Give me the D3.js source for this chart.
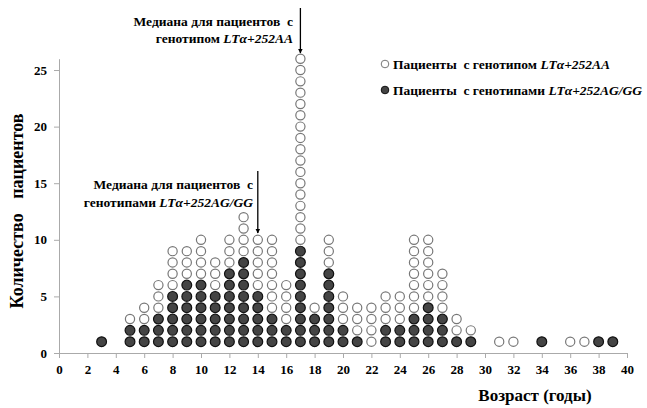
<!DOCTYPE html>
<html>
<head>
<meta charset="utf-8">
<script src="https://cdn.jsdelivr.net/npm/d3@7"></script>
<style>
  body { margin: 0; background: #fff; }
  svg text { font-family: "Liberation Serif", "Times New Roman", serif; font-weight: bold; fill: #000; }
</style>
</head>
<body>
<div id="chart"></div>
<script>
// age in years
const ages = [3, 5, 6, 7, 8, 9, 10, 11, 12, 13, 14, 15, 16, 17, 18, 19, 20, 21, 22, 23, 24, 25, 26, 27, 28, 29, 31, 32, 34, 36, 37, 38, 39];
// patients LTa+252AG/GG (filled dots, stacked at the bottom)
const countAGGG = [1, 2, 2, 3, 5, 6, 6, 5, 7, 8, 5, 3, 2, 9, 3, 7, 2, 1, 0, 2, 2, 3, 4, 3, 1, 1, 0, 0, 1, 0, 0, 1, 1];
// patients LTa+252AA (open dots, stacked above)
const countAA = [0, 1, 2, 3, 4, 3, 4, 3, 3, 4, 5, 7, 4, 17, 1, 3, 3, 3, 4, 3, 3, 7, 6, 4, 2, 1, 1, 1, 0, 1, 1, 0, 0];
const xTicks = d3.range(0, 41, 2);
const yTicks = [0, 5, 10, 15, 20, 25];

const width = 647, height = 408;
const svg = d3.select("#chart").append("svg")
  .attr("width", width)
  .attr("height", height);

const x = d3.scaleLinear().domain([0, 40]).range([59, 627]);
const y = d3.scaleLinear().domain([0, 26]).range([353, 58.7]);

// axes
const yAxis = svg.append("g")
  .attr("transform", "translate(" + x(0) + ",0)")
  .call(d3.axisLeft(y).tickValues(yTicks).tickSize(5).tickSizeOuter(0));
const xAxis = svg.append("g")
  .attr("transform", "translate(0," + y(0) + ")")
  .call(d3.axisBottom(x).tickValues(xTicks).tickSize(5).tickSizeOuter(0));

[xAxis, yAxis].forEach(function(a) {
  a.selectAll("path, line").attr("stroke", "#aaa");
  a.selectAll("text").style("font-size", "13px");
});
yAxis.selectAll("text").attr("x", -12);
xAxis.selectAll("text").attr("y", 12);

// dots
let dots = [];
ages.forEach(function(a, i) {
  for (let k = 0; k < countAGGG[i]; k++) dots.push({age: a, level: k + 1, filled: true});
  for (let k = 0; k < countAA[i]; k++) dots.push({age: a, level: countAGGG[i] + k + 1, filled: false});
});

svg.append("g").selectAll("circle")
  .data(dots)
  .enter().append("circle")
  .attr("cx", d => x(d.age))
  .attr("cy", d => y(d.level))
  .attr("r", d => d.filled ? 4.9 : 4.6)
  .attr("fill", d => d.filled ? "#444" : "#fff")
  .attr("stroke", d => d.filled ? "#111" : "#777")
  .attr("stroke-width", 1.2);

// axis titles
svg.append("text")
  .attr("transform", "translate(23,211) rotate(-90)")
  .attr("text-anchor", "middle")
  .style("font-size", "18px")
  .style("word-spacing", "10px")
  .text("Количество пациентов");

svg.append("text")
  .attr("x", 535)
  .attr("y", 401)
  .attr("text-anchor", "middle")
  .style("font-size", "17px")
  .text("Возраст (годы)");

// arrow marker
svg.append("defs").append("marker")
  .attr("id", "arrow")
  .attr("viewBox", "0 0 10 10")
  .attr("refX", 9).attr("refY", 5)
  .attr("markerWidth", 5).attr("markerHeight", 6)
  .attr("markerUnits", "userSpaceOnUse")
  .attr("orient", "auto")
  .append("path").attr("d", "M0,0L10,5L0,10Z").attr("fill", "#000");

function annotate(lines, xr, y0, dy, ax, ay0, ay1) {
  lines.forEach(function(parts, i) {
    const t = svg.append("text")
      .attr("x", xr)
      .attr("y", y0 + i * dy)
      .attr("text-anchor", "end")
      .style("font-size", "13.5px")
      .attr("xml:space", "preserve");
    parts.forEach(function(p) {
      t.append("tspan").style("font-style", p[1] ? "italic" : "normal").text(p[0]);
    });
  });
  svg.append("line")
    .attr("x1", ax).attr("x2", ax)
    .attr("y1", ay0).attr("y2", ay1)
    .attr("stroke", "#000").attr("stroke-width", 1.3)
    .attr("marker-end", "url(#arrow)");
}

annotate([[["Медиана для пациентов  с", false]], [["генотипом ", false], ["LTα+252AA", true]]], 293, 26, 16.5, x(17), 8, 53);
annotate([[["Медиана для пациентов  с", false]], [["генотипами ", false], ["LTα+252AG/GG", true]]], 253, 189, 17.5, x(14), 171, 233);

// legend
const legend = [
  {filled: false, parts: [["Пациенты  с генотипом ", false], ["LTα+252AA", true]]},
  {filled: true, parts: [["Пациенты  с генотипами ", false], ["LTα+252AG/GG", true]]}
];
legend.forEach(function(l, i) {
  const ly = 64 + i * 26;
  svg.append("circle")
    .attr("cx", 385).attr("cy", ly)
    .attr("r", 3.8)
    .attr("fill", l.filled ? "#444" : "#fff")
    .attr("stroke", l.filled ? "#111" : "#777");
  const t = svg.append("text")
    .attr("x", 393).attr("y", ly + 4.5)
    .style("font-size", "13.5px")
    .attr("xml:space", "preserve");
  l.parts.forEach(function(p) {
    t.append("tspan").style("font-style", p[1] ? "italic" : "normal").text(p[0]);
  });
});
</script>
</body>
</html>
